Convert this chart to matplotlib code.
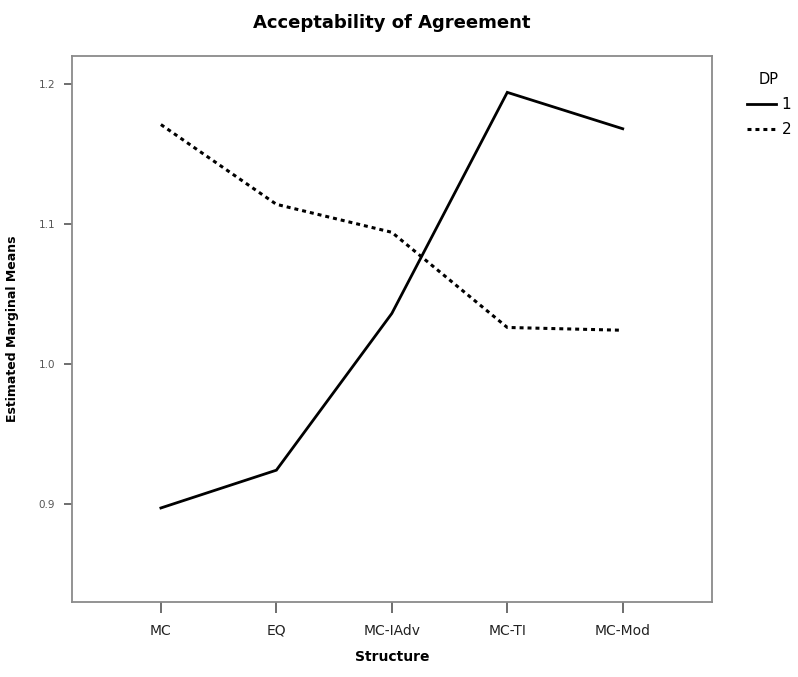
import matplotlib
matplotlib.use("Agg")
import matplotlib.pyplot as plt

categories = ["MC", "EQ", "MC-IAdv", "MC-TI", "MC-Mod"]
dp1 = [0.897, 0.924, 1.036, 1.194, 1.168]
dp2 = [1.171, 1.114, 1.094, 1.026, 1.024]
yticks = [0.9, 1.0, 1.1, 1.2]

fig = plt.figure(figsize=(7.98, 6.77), dpi=100)
ax = fig.add_axes([0.0898, 0.1112, 0.8024, 0.8061])
x = list(range(len(categories)))
l1, = ax.plot(x, dp1, color="black", lw=2.0, solid_joinstyle="miter", label="1")
l2, = ax.plot(x, dp2, color="black", lw=2.2, linestyle=(0, (1.3, 1.3)), label="2")

ax.set_xlim(-0.773, 4.773)
ax.set_ylim(0.830, 1.220)
ax.set_xticks(x)
ax.set_xticklabels(categories, fontsize=10, color="#222222")
ax.set_yticks(yticks)
ax.set_yticklabels([f"{v:.1f}" for v in yticks], fontsize=7.5, color="#555555")
for s in ax.spines.values():
    s.set_color("#8a8a8a")
    s.set_linewidth(1.3)
ax.tick_params(axis="y", length=6, width=1.2, color="#555555", pad=6)
ax.tick_params(axis="x", length=8, width=1.2, color="#555555", pad=8)

ax.set_title("Acceptability of Agreement", fontsize=13, fontweight="bold", pad=20)
ax.set_xlabel("Structure", fontsize=10, fontweight="bold", labelpad=9)
ax.set_ylabel("Estimated Marginal Means", fontsize=9, fontweight="bold", labelpad=14)

leg = fig.legend(handles=[l1, l2], title="DP", loc="upper left",
                 bbox_to_anchor=(0.928, 0.902), frameon=False,
                 fontsize=11, title_fontsize=10.5, handlelength=1.9,
                 handletextpad=0.4, labelspacing=0.65, borderaxespad=0)

fig.savefig("out.png", dpi=100)
